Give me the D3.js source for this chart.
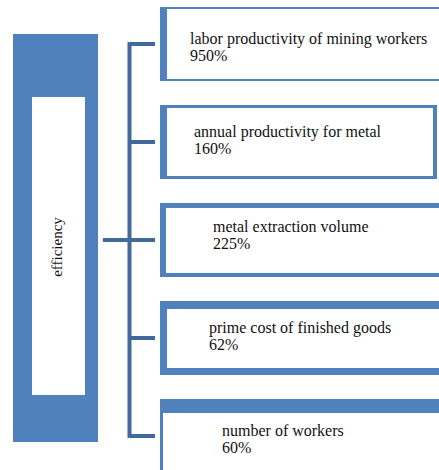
<!DOCTYPE html>
<html>
<head>
<meta charset="utf-8">
<script src="https://cdn.jsdelivr.net/npm/d3@7/dist/d3.min.js"></script>
<style>
  html, body { margin: 0; padding: 0; background: #fff; }
  svg { display: block; }
  svg text { font-family: "Liberation Serif", "Times New Roman", "DejaVu Serif", serif; }
</style>
</head>
<body>
<div id="chart"></div>
<script>
const rootLabel = "efficiency";
const indicators = [
  "labor productivity of mining workers",
  "annual productivity for metal",
  "metal extraction volume",
  "prime cost of finished goods",
  "number of workers"
];
const values = [950, 160, 225, 62, 60];

const W = 439, H = 470;
const blue = "#4f81bd";
const lineBlue = "#41699a";

const svg = d3.select("#chart").append("svg")
  .attr("width", W).attr("height", H);

// vertical positions of the box centres
const y = d3.scalePoint().domain(indicators).range([44, 436]);
const boxH = 74;

// per-box border styling (left, top, bottom, right; null right = runs off the page)
const borders = [
  {l: 7, t: 2, b: 2, r: null},
  {l: 7, t: 3, b: 3, r: 4},
  {l: 6, t: 5, b: 4, r: null},
  {l: 7, t: 8, b: 7, r: null},
  {l: 3, t: 14, b: 3, r: null}
];
const textX = [190, 194, 213, 209, 222];
const textDy = [0, -5, -8, -5, 0];

// left root box
svg.append("rect").attr("x", 13).attr("y", 34).attr("width", 85).attr("height", 408).attr("fill", blue);
svg.append("rect").attr("x", 32).attr("y", 97).attr("width", 53).attr("height", 298).attr("fill", "#fff");
svg.append("text")
  .attr("transform", "translate(57,247) rotate(-90)")
  .attr("text-anchor", "middle").attr("dy", "0.35em")
  .attr("font-size", 15).attr("fill", "#111")
  .text(rootLabel);

// connector lines
const midY = y(indicators[2]);
svg.append("line").attr("x1", 103).attr("x2", 130).attr("y1", midY).attr("y2", midY)
  .attr("stroke", lineBlue).attr("stroke-width", 4);
svg.append("line").attr("x1", 129.5).attr("x2", 129.5)
  .attr("y1", y(indicators[0]) - 2).attr("y2", y(indicators[4]) + 2)
  .attr("stroke", lineBlue).attr("stroke-width", 4);
svg.selectAll("line.branch").data(indicators).enter().append("line")
  .attr("class", "branch")
  .attr("x1", 128).attr("x2", 155)
  .attr("y1", d => y(d)).attr("y2", d => y(d))
  .attr("stroke", lineBlue).attr("stroke-width", 4);

// boxes
const boxX = 160;
const g = svg.selectAll("g.box").data(indicators).enter().append("g").attr("class", "box");
g.append("rect")
  .attr("x", boxX)
  .attr("y", d => y(d) - boxH / 2)
  .attr("width", (d, i) => borders[i].r === null ? W - boxX + 20 : 277)
  .attr("height", boxH)
  .attr("fill", blue);
g.append("rect")
  .attr("x", (d, i) => boxX + borders[i].l)
  .attr("y", (d, i) => y(d) - boxH / 2 + borders[i].t)
  .attr("width", (d, i) => borders[i].r === null ? W - boxX + 20 : 277 - borders[i].l - borders[i].r)
  .attr("height", (d, i) => boxH - borders[i].t - borders[i].b)
  .attr("fill", "#fff");
const t = g.append("text")
  .attr("font-size", 16).attr("fill", "#111")
  .attr("x", (d, i) => textX[i])
  .attr("y", (d, i) => y(d) + textDy[i]);
t.append("tspan").attr("x", (d, i) => textX[i]).text(d => d);
t.append("tspan").attr("x", (d, i) => textX[i]).attr("dy", 17).text((d, i) => values[i] + "%");
</script>
</body>
</html>
